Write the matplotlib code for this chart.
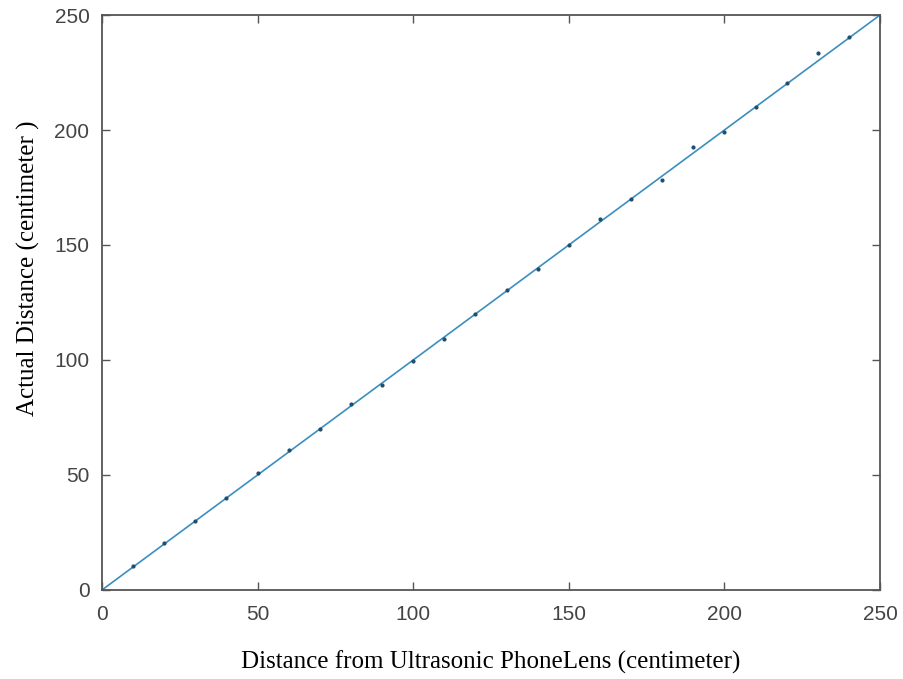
import matplotlib
matplotlib.use('Agg')
import matplotlib.pyplot as plt
import numpy as np

# measured distances (phone lens) vs actual distances, in cm
sensor_cm = [10, 20, 30, 40, 50, 60, 70, 80, 90, 100, 110, 120,
             130, 140, 150, 160, 170, 180, 190, 200, 210, 220, 230, 240]
actual_cm = [10.3, 20.3, 30, 40, 50.8, 60.7, 70, 80.7, 89.3, 99.6, 109.3, 120.2,
             130.4, 139.4, 149.8, 161.2, 170.2, 178.2, 192.4, 199.3, 209.8, 220.4, 233.5, 240.3]
fit_x = [0, 250]
fit_y = [0, 250]

fig = plt.figure(figsize=(9.04, 6.79), dpi=100)
ax = fig.add_axes([0.1128, 0.1311, 0.8607, 0.8468])

ax.plot(fit_x, fit_y, color='#3a8fc0', lw=1.2)
ax.plot(sensor_cm, actual_cm, '.', color='#1f4e6e', ms=4)

ax.set_xlim(0, 250)
ax.set_ylim(0, 250)
ax.set_xticks(np.arange(0, 251, 50))
ax.set_yticks(np.arange(0, 251, 50))

for s in ax.spines.values():
    s.set_color('#555555')
    s.set_linewidth(1.3)
ax.tick_params(direction='in', top=True, right=True, length=6, width=1,
               color='#555555', labelsize=15, labelcolor='#444444')
ax.tick_params(axis='x', pad=11)
ax.tick_params(axis='y', pad=9)
for lab in ax.get_xticklabels() + ax.get_yticklabels():
    lab.set_family('Liberation Sans')

ax.set_xlabel('Distance from Ultrasonic PhoneLens (centimeter)',
              family='Liberation Serif', fontsize=18, labelpad=19)
ax.set_ylabel('Actual Distance (centimeter )',
              family='Liberation Serif', fontsize=18)
# label sits a bit above the axis middle in the original
ax.yaxis.set_label_coords(-0.08, 0.56)

fig.savefig('out.png', dpi=100, facecolor='white')
